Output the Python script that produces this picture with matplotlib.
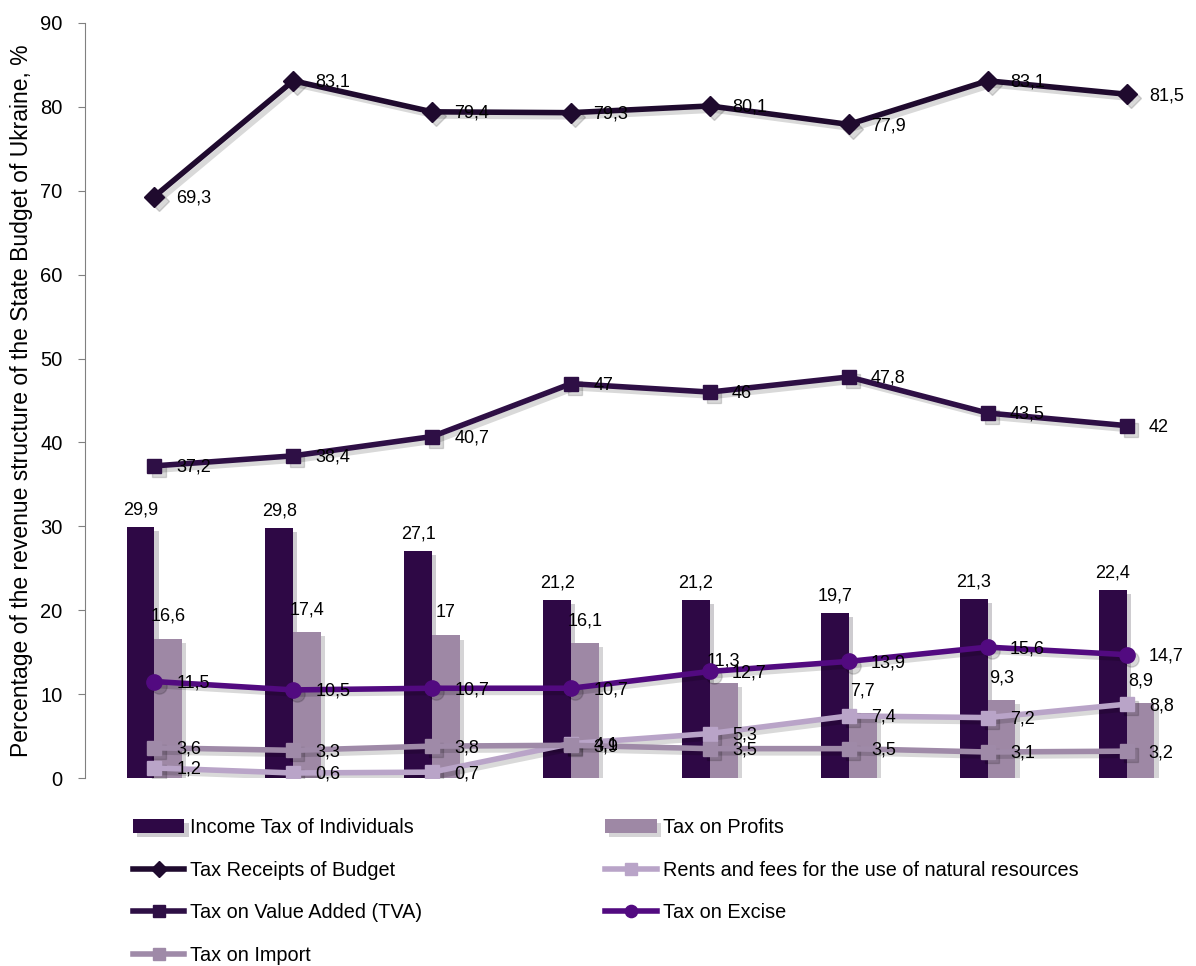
import numpy as np
import matplotlib
matplotlib.use("Agg")
import matplotlib.pyplot as plt
import matplotlib.patheffects as pe
from matplotlib.transforms import ScaledTranslation

plt.rcParams['font.family'] = ['Liberation Sans', 'DejaVu Sans']

# values (8 periods, no x labels shown)
income = [29.9, 29.8, 27.1, 21.2, 21.2, 19.7, 21.3, 22.4]
profits = [16.6, 17.4, 17, 16.1, 11.3, 7.7, 9.3, 8.9]
receipts = [69.3, 83.1, 79.4, 79.3, 80.1, 77.9, 83.1, 81.5]
rents = [1.2, 0.6, 0.7, 4.1, 5.3, 7.4, 7.2, 8.8]
tva = [37.2, 38.4, 40.7, 47, 46, 47.8, 43.5, 42]
excise = [11.5, 10.5, 10.7, 10.7, 12.7, 13.9, 15.6, 14.7]
imports = [3.6, 3.3, 3.8, 3.9, 3.5, 3.5, 3.1, 3.2]

def fmt(v):
    return ('%g' % v).replace('.', ',')

x = np.arange(len(income))
fig = plt.figure(figsize=(11.96, 9.66), dpi=100)
ax = fig.add_axes([0.071, 0.1946, 0.929, 0.7817])

shadow_bar = [pe.SimplePatchShadow(offset=(3, -3), alpha=0.2), pe.Normal()]
shift = ax.transData + ScaledTranslation(3/72, -3/72, fig.dpi_scale_trans)

w = 0.2
b1 = ax.bar(x - w/2, income, w, color='#2e0845', label='Income Tax of Individuals',
            path_effects=shadow_bar, zorder=2)
b2 = ax.bar(x + w/2, profits, w, color='#9e88a5', label='Tax on Profits',
            path_effects=shadow_bar, zorder=2)
ax.bar_label(b1, labels=[fmt(v) for v in income], padding=6, fontsize=13)
ax.bar_label(b2, labels=[fmt(v) for v in profits], padding=10, fontsize=13)

series = [
    (receipts, 'Tax Receipts of Budget', '#1f0a2e', 'D', 10),
    (rents, 'Rents and fees for the use of natural resources', '#b9a4c8', 's', 10),
    (tva, 'Tax on Value Added (TVA)', '#2e0f45', 's', 10),
    (excise, 'Tax on Excise', '#520a80', 'o', 11),
    (imports, 'Tax on Import', '#9f8aa8', 's', 10),
]
handles = {}
for vals, name, col, mk, ms in series:
    # soft drop shadow like the original
    ax.plot(x, vals, color='black', alpha=0.15, lw=4, marker=mk, ms=ms,
            transform=shift, zorder=2.5)
    ln, = ax.plot(x, vals, color=col, lw=4, marker=mk, ms=ms, label=name, zorder=3)
    handles[name] = ln
    for xi, v in zip(x, vals):
        ax.annotate(fmt(v), (xi, v), xytext=(16, -1), textcoords='offset points',
                    ha='left', va='center', fontsize=13, zorder=4)

ax.set_xlim(-0.5, 7.5)
ax.set_ylim(0, 90)
ax.set_yticks(range(0, 91, 10))
ax.set_xticks([])
ax.tick_params(axis='y', labelsize=14.5, color='#808080', length=5, pad=11)
for s in ['top', 'right', 'bottom']:
    ax.spines[s].set_visible(False)
ax.spines['left'].set_color('#808080')
ax.set_ylabel('Percentage of the revenue structure of the State Budget of Ukraine, %',
              fontsize=16.5, labelpad=5)

order = [b1, handles['Tax Receipts of Budget'], handles['Tax on Value Added (TVA)'],
         handles['Tax on Import'], b2,
         handles['Rents and fees for the use of natural resources'], handles['Tax on Excise']]
fig.legend(order, [h.get_label() for h in order], ncol=2, loc='upper left',
           bbox_to_anchor=(0.111, 0.153), frameon=False, fontsize=14.3,
           borderpad=0, borderaxespad=0, markerscale=0.8,
           handlelength=2.6, handletextpad=0.3, columnspacing=9.2, labelspacing=1.18)

fig.savefig('out.png', dpi=100)
